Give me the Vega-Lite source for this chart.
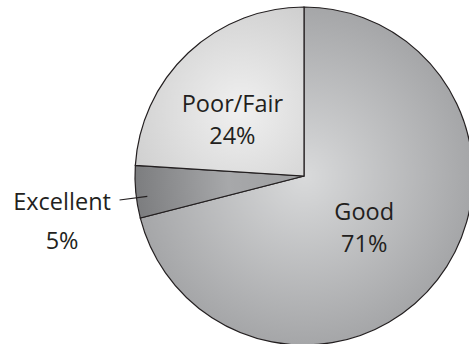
{
  "$schema": "https://vega.github.io/schema/vega-lite/v6.json",
  "width": 338,
  "height": 338,
  "autosize": {"type": "none"},
  "padding": {"left": 135, "top": 7, "right": 0, "bottom": 0},
  "background": "white",
  "config": {"view": {"stroke": null}},
  "data": {
    "values": [
      {"category": "Good", "pct": 71, "order": 1, "label": "Good\n71%"},
      {"category": "Excellent", "pct": 5, "order": 2, "label": "Excellent\n5%"},
      {"category": "Poor/Fair", "pct": 24, "order": 3, "label": "Poor/Fair\n24%"}
    ]
  },
  "encoding": {
    "theta": {"field": "pct", "type": "quantitative", "stack": true},
    "order": {"field": "order", "type": "quantitative"},
    "detail": {"field": "category", "type": "nominal"}
  },
  "layer": [
    {
      "mark": {"type": "arc", "stroke": "#231f20", "strokeWidth": 1.2},
      "encoding": {
        "fill": {
          "condition": [
            {"test": "datum.category === 'Good'", "value": {"gradient": "radial", "x1": 0.492, "y1": 0.5, "r1": 0, "x2": 0.492, "y2": 0.5, "r2": 0.5, "stops": [{"offset": 0, "color": "#d9dadb"}, {"offset": 1, "color": "#a5a6a8"}]}},
            {"test": "datum.category === 'Excellent'", "value": {"gradient": "radial", "x1": 1, "y1": 0.407, "r1": 0, "x2": 1, "y2": 0.407, "r2": 1, "stops": [{"offset": 0, "color": "#9e9fa1"}, {"offset": 0.45, "color": "#a7a8aa"}, {"offset": 1, "color": "#7c7d7f"}]}}
          ],
          "value": {"gradient": "radial", "x1": 0.62, "y1": 0.61, "r1": 0, "x2": 0.62, "y2": 0.61, "r2": 0.75, "stops": [{"offset": 0, "color": "#f0f0f0"}, {"offset": 1, "color": "#cdcdcd"}]}
        }
      }
    },
    {
      "mark": {"type": "arc", "radius": 186, "radius2": 158, "padAngle": 0.4, "thetaOffset": -0.035, "theta2Offset": -0.035, "fill": "transparent", "strokeWidth": 1.1},
      "encoding": {
        "stroke": {"condition": {"test": "datum.category === 'Excellent'", "value": "#231f20"}, "value": "transparent"}
      }
    },
    {
      "mark": {"type": "text", "radius": 80, "dx": -3, "dy": -12, "font": "Open Sans", "fontSize": 23.5, "lineHeight": 32, "lineBreak": "\n", "align": "center", "baseline": "middle", "color": "#231f20"},
      "encoding": {
        "text": {"condition": {"test": "datum.category === 'Good'", "field": "label", "type": "nominal"}, "value": ""}
      }
    },
    {
      "mark": {"type": "text", "radius": 90, "dx": -10, "dy": -5, "font": "Open Sans", "fontSize": 23.5, "lineHeight": 32, "lineBreak": "\n", "align": "center", "baseline": "middle", "color": "#231f20"},
      "encoding": {
        "text": {"condition": {"test": "datum.category === 'Poor/Fair'", "field": "label", "type": "nominal"}, "value": ""}
      }
    },
    {
      "mark": {"type": "text", "radius": 245, "dx": 2, "dy": 3.5, "font": "Open Sans", "fontSize": 23.5, "lineHeight": 39, "lineBreak": "\n", "align": "center", "baseline": "middle", "color": "#231f20"},
      "encoding": {
        "text": {"condition": {"test": "datum.category === 'Excellent'", "field": "label", "type": "nominal"}, "value": ""}
      }
    }
  ]
}
